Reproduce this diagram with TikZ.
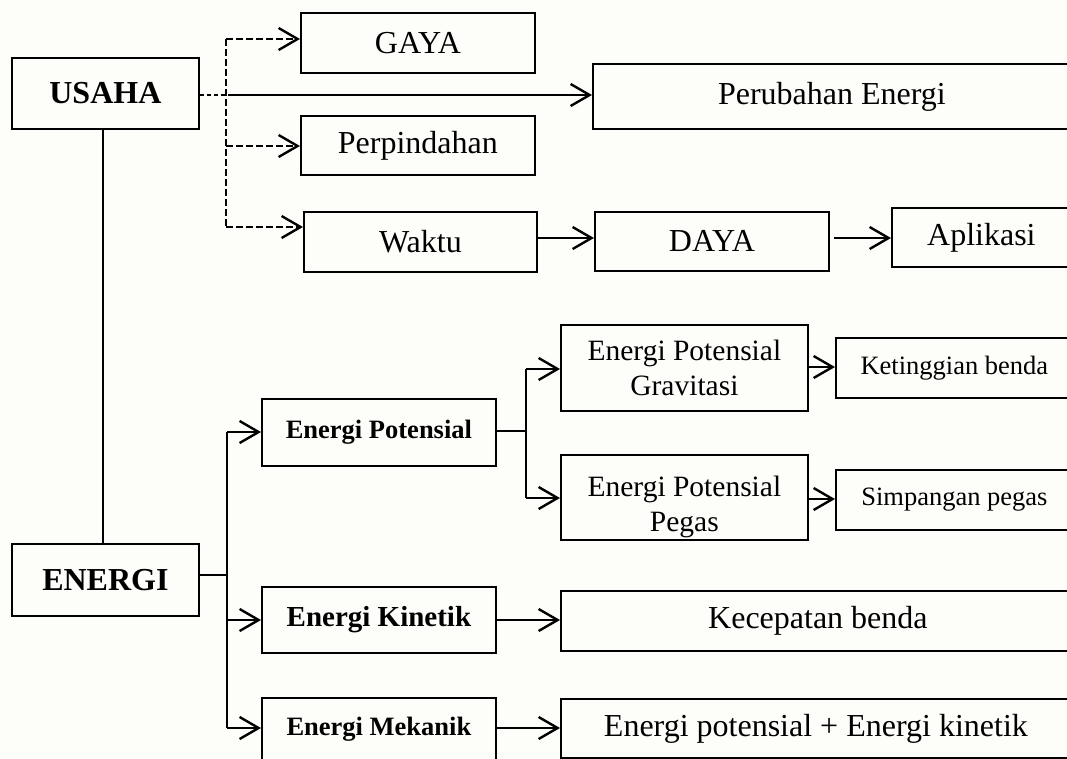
\documentclass[tikz,border=0pt]{standalone}
\usepackage{fontspec}
\setmainfont{Liberation Serif}
\usetikzlibrary{arrows.meta}
\definecolor{paper}{RGB}{253,253,250}
\tikzset{
  box/.style={draw=black, line width=1.8pt, anchor=north west, inner sep=0pt, align=center, font=\fontsize{32}{35}\selectfont},
  bigb/.style={font=\fontsize{32}{35}\selectfont\bfseries},
  midb/.style={font=\fontsize{26.5}{30}\selectfont\bfseries},
  kinb/.style={font=\fontsize{29}{32}\selectfont\bfseries},
  midr/.style={font=\fontsize{29.5}{35}\selectfont},
  smallr/.style={font=\fontsize{26.5}{30}\selectfont},
  conn/.style={line width=2.2pt},
  tip/.style={-{Straight Barb[length=19pt,width=22pt,line width=2.4pt]}},
  arr/.style={line width=2.2pt, tip},
  darr/.style={line width=2.2pt, dash pattern=on 6.5pt off 3.5pt, tip},
  dline/.style={line width=2.2pt, dash pattern=on 6.5pt off 3.5pt},
  thindash/.style={line width=1.4pt, dash pattern=on 4pt off 3pt},
}
\begin{document}
\begin{tikzpicture}[x=1pt,y=-1pt]
\useasboundingbox (0,0) rectangle (1067,758);
\clip (0,0) rectangle (1067,758);
\fill[paper] (0,0) rectangle (1067,758);

% USAHA part
\node[box, bigb, minimum width=187pt, minimum height=71pt] (usaha) at (11,57) {USAHA};
\node[box, minimum width=234pt, minimum height=60pt] (gaya) at (300,12) {GAYA};
\node[box, minimum width=478pt, minimum height=65pt] (perubahan) at (592,63) {Perubahan Energi};
\node[box, minimum width=234pt, minimum height=59pt] (perpindahan) at (300,115) {Perpindahan};
\node[box, minimum width=233pt, minimum height=60pt] (waktu) at (303,211) {Waktu};
\node[box, minimum width=234pt, minimum height=59pt] (daya) at (594,211) {DAYA};
\node[box, minimum width=179pt, minimum height=59pt] (aplikasi) at (891,207) {Aplikasi};

% ENERGI part
\node[box, bigb, minimum width=187pt, minimum height=72pt] (energi) at (11,543) {ENERGI};
\node[box, midb, minimum width=234pt, minimum height=67pt] (ep) at (261,398) {Energi Potensial};
\node[box, kinb, minimum width=234pt, minimum height=66pt] (ek) at (261,586) {Energi Kinetik};
\node[box, midb, minimum width=234pt, minimum height=62pt] (em) at (261,697) {Energi Mekanik};
\node[box, midr, minimum width=247pt, minimum height=86pt] (epg) at (560,324) {Energi Potensial\\Gravitasi};
\node[box, midr, minimum width=247pt, minimum height=85pt] (epp) at (560,454) {\rule{0pt}{40pt}Energi Potensial\\Pegas};
\node[box, smallr, minimum width=237pt, minimum height=60pt] (ket) at (835,337) {Ketinggian benda};
\node[box, smallr, minimum width=237pt, minimum height=60pt] (simp) at (835,469) {Simpangan pegas};
\node[box, minimum width=514pt, minimum height=60pt] (kec) at (560,590) {Kecepatan benda};
\node[box, minimum width=510pt, minimum height=59pt] (epek) at (560,698) {Energi potensial + Energi kinetik};

% USAHA connectors
\coordinate (ut) at (226,95);
\coordinate (ut1) at (226,39);
\coordinate (ut2) at (226,146);
\coordinate (ut3) at (226,227);
\coordinate (us) at (228,95);
\draw[thindash] (usaha.east |- ut) -- (ut);
\draw[dline] (ut1) -- (ut3);
\draw[darr] (ut1) -- (gaya.west |- ut1);
\draw[darr] (ut2) -- (perpindahan.west |- ut2);
\draw[darr] (ut3) -- (waktu.west |- ut3);
\draw[arr] (us) -- (perubahan.west |- us);
\coordinate (wd) at (536,238);
\draw[arr] (wd) -- (daya.west |- wd);
\coordinate (da) at (834,238);
\draw[arr] (da) -- (aplikasi.west |- da);
\coordinate (vx) at (103,0);
\draw[line width=1.4pt] (usaha.south -| vx) -- (energi.north -| vx);

% ENERGI connectors
\coordinate (et0) at (227,575);
\coordinate (et1) at (227,432);
\coordinate (et2) at (227,620);
\coordinate (et3) at (227,728);
\draw[conn] (energi.east |- et0) -- (et0);
\draw[conn] (et1) -- (et3);
\draw[arr] (et1) -- (ep.west |- et1);
\draw[arr] (et2) -- (ek.west |- et2);
\draw[arr] (et3) -- (em.west |- et3);
\coordinate (st0) at (526,431);
\coordinate (st1) at (526,369);
\coordinate (st2) at (526,498);
\draw[conn] (ep.east |- st0) -- (st0);
\draw[conn] (st1) -- (st2);
\draw[arr] (st1) -- (epg.west |- st1);
\draw[arr] (st2) -- (epp.west |- st2);
\coordinate (k1) at (807,367);
\draw[arr] (k1) -- (ket.west |- k1);
\coordinate (k2) at (807,499);
\draw[arr] (k2) -- (simp.west |- k2);
\coordinate (k3) at (495,620);
\draw[arr] (k3) -- (kec.west |- k3);
\coordinate (k4) at (495,728);
\draw[arr] (k4) -- (epek.west |- k4);
\end{tikzpicture}
\end{document}
